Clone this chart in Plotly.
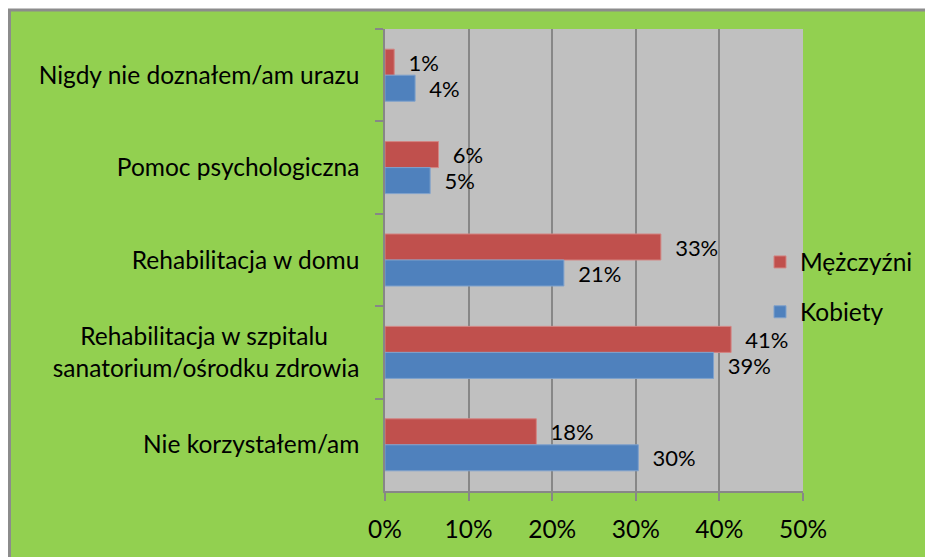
import plotly.graph_objects as go

NBSP = "\u00a0"

categories = [
    "Nigdy nie doznałem/am urazu",
    "Pomoc psychologiczna",
    "Rehabilitacja w domu",
    "Rehabilitacja w szpitalu" + NBSP * 5 + "<br>sanatorium/ośrodku zdrowia",
    "Nie korzystałem/am",
]
men = [0.011, 0.064, 0.330, 0.414, 0.181]
women = [0.036, 0.054, 0.214, 0.393, 0.303]
series_names = ["Mężczyźni", "Kobiety"]
tick_vals = [0, 0.1, 0.2, 0.3, 0.4, 0.5]

W, H = 925, 557
L, T = 385, 29
R = W - 803
B = H - 491
pw, ph = W - L - R, H - T - B

def px_x(p):
    return (p - L) / pw

def px_y(p):
    return (H - B - p) / ph

FONT = "Lato, 'Open Sans', sans-serif"
FS = 24.5
GRID = "#878787"

fig = go.Figure()
pad = NBSP * 2
fig.add_trace(go.Bar(
    y=categories, x=men, orientation="h", name=series_names[0],
    marker=dict(color="#C0504D", line=dict(color="#D38583", width=1)),
    texttemplate=pad + "%{x:.0%}", textposition="outside",
    textfont=dict(family=FONT, size=FS, color="black"),
    cliponaxis=False, legendgroup="m",
))
fig.add_trace(go.Bar(
    y=categories, x=women, orientation="h", name=series_names[1],
    marker=dict(color="#4F81BD", line=dict(color="#7FA1CC", width=1)),
    texttemplate=pad + "%{x:.0%}", textposition="outside",
    textfont=dict(family=FONT, size=FS, color="black"),
    cliponaxis=False, legendgroup="k",
))

fig.update_layout(
    width=W, height=H,
    margin=dict(l=L, r=R, t=T, b=B, pad=0, autoexpand=False),
    paper_bgcolor="white",
    plot_bgcolor="rgba(0,0,0,0)",
    font=dict(family=FONT, size=FS, color="black"),
    barmode="group",
    bargap=0.437,
    bargroupgap=0,
    showlegend=True,
    legend=dict(
        x=px_x(760), xanchor="left",
        y=px_y(287), yanchor="middle",
        bgcolor="rgba(0,0,0,0)",
        font=dict(family=FONT, size=FS, color="black"),
        traceorder="grouped",
        tracegroupgap=15,
        itemwidth=30,
    ),
    xaxis=dict(
        range=[0, 0.5], tickvals=tick_vals, tickformat=".0%",
        showgrid=True, gridcolor=GRID, gridwidth=1.5,
        zeroline=False, automargin=False,
        showline=True, linecolor=GRID, linewidth=1.5,
        ticks="outside", ticklen=8, tickcolor=GRID, tickwidth=1.5,
        ticklabelstandoff=8,
        fixedrange=True,
    ),
    yaxis=dict(
        autorange="reversed",
        showgrid=False, zeroline=False, automargin=False,
        showline=True, linecolor=GRID, linewidth=1.5,
        ticks="outside", ticklen=8, tickcolor=GRID, tickwidth=1.5,
        tickson="boundaries",
        ticklabelstandoff=19,
        fixedrange=True,
    ),
    shapes=[
        dict(type="rect", xref="paper", yref="paper", layer="below",
             x0=px_x(9.5), x1=px_x(960), y0=px_y(600), y1=px_y(10),
             fillcolor="#92D050", line=dict(color="#8C8C8C", width=3)),
        dict(type="rect", xref="paper", yref="paper", layer="below",
             x0=0, x1=1, y0=0, y1=1,
             fillcolor="#C0C0C0", line=dict(width=0)),
    ],
)

fig.write_html(
    "out.html",
    config={"displayModeBar": False},
    post_script="document.body.style.margin='0';"
                "document.documentElement.style.overflow='hidden';"
                "document.body.style.overflow='hidden';",
)
